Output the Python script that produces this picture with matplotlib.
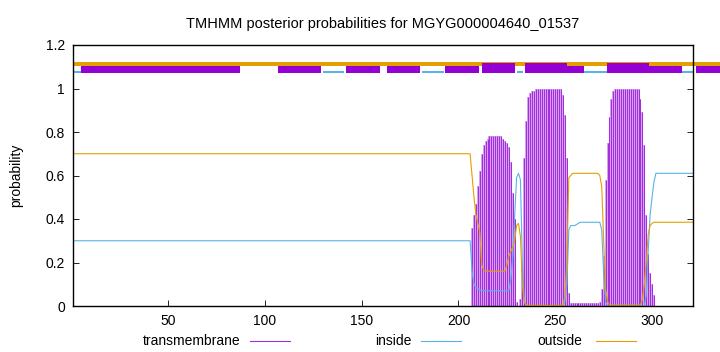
import numpy as np
from matplotlib import pyplot as plt
from matplotlib.lines import Line2D
from matplotlib.patches import Rectangle

plt.rcParams["font.family"] = ["Liberation Sans", "DejaVu Sans"]
plt.rcParams["font.size"] = 10

title = "TMHMM posterior probabilities for MGYG000004640_01537"
seq_len = 321
residues = np.arange(1, seq_len + 1)

# posterior values, residues 1-206 flat, then read residue by residue from 207
tm_head = [0.0] * 206
inside_head = [0.30] * 206
outside_head = [0.70] * 206

tm_tail = [
    0.36, 0.42, 0.47, 0.55, 0.62, 0.70, 0.74, 0.76, 0.77, 0.78,
    0.78, 0.78, 0.78, 0.78, 0.78, 0.78, 0.77, 0.76, 0.75, 0.73,
    0.66, 0.52, 0.40, 0.02, 0.00, 0.03, 0.19, 0.68, 0.85, 0.96,
    0.98, 0.99, 0.99, 1.00, 1.00, 1.00, 1.00, 1.00, 1.00, 1.00,
    1.00, 1.00, 1.00, 1.00, 1.00, 1.00, 1.00, 0.97, 0.88, 0.68,
    0.06, 0.015, 0.015, 0.015, 0.015, 0.015, 0.015, 0.015, 0.015, 0.015,
    0.015, 0.015, 0.015, 0.015, 0.015, 0.015, 0.02, 0.08, 0.23, 0.58,
    0.75, 0.87, 0.95, 0.99, 1.00, 1.00, 1.00, 1.00, 1.00, 1.00,
    1.00, 1.00, 1.00, 1.00, 1.00, 1.00, 1.00, 0.95, 0.89, 0.74,
    0.42, 0.24, 0.15, 0.10, 0.05, 0.0, 0.0, 0.0, 0.0, 0.0,
    0.0, 0.0, 0.0, 0.0, 0.0, 0.0, 0.0, 0.0, 0.0, 0.0,
    0.0, 0.0, 0.0, 0.0, 0.0,
]
inside_tail = [
    0.16, 0.10, 0.085, 0.08, 0.075, 0.07, 0.07, 0.07, 0.07, 0.07,
    0.07, 0.07, 0.07, 0.07, 0.07, 0.07, 0.07, 0.07, 0.07, 0.07,
    0.12, 0.22, 0.40, 0.59, 0.61, 0.58, 0.20, 0.02, 0.0, 0.0,
    0.0, 0.0, 0.0, 0.0, 0.0, 0.0, 0.0, 0.0, 0.0, 0.0,
    0.0, 0.0, 0.0, 0.0, 0.0, 0.0, 0.0, 0.0, 0.02, 0.10,
    0.35, 0.37, 0.37, 0.37, 0.375, 0.38, 0.385, 0.385, 0.385, 0.385,
    0.385, 0.385, 0.385, 0.385, 0.385, 0.385, 0.385, 0.35, 0.15, 0.02,
    0.0, 0.0, 0.0, 0.0, 0.0, 0.0, 0.0, 0.0, 0.0, 0.0,
    0.0, 0.0, 0.0, 0.0, 0.0, 0.0, 0.0, 0.0, 0.0, 0.0,
    0.05, 0.25, 0.42, 0.50, 0.57, 0.61, 0.61, 0.61, 0.61, 0.61,
    0.61, 0.61, 0.61, 0.61, 0.61, 0.61, 0.61, 0.61, 0.61, 0.61,
    0.61, 0.61, 0.61, 0.61, 0.61,
]
outside_tail = [
    0.60, 0.50, 0.42, 0.38, 0.34, 0.19, 0.165, 0.16, 0.16, 0.16,
    0.16, 0.16, 0.16, 0.16, 0.16, 0.16, 0.16, 0.16, 0.19, 0.23,
    0.25, 0.27, 0.30, 0.37, 0.38, 0.32, 0.10, 0.02, 0.005, 0.003,
    0.003, 0.003, 0.003, 0.003, 0.003, 0.003, 0.003, 0.003, 0.003, 0.003,
    0.003, 0.003, 0.003, 0.003, 0.003, 0.003, 0.003, 0.003, 0.05, 0.20,
    0.59, 0.60, 0.61, 0.61, 0.61, 0.61, 0.61, 0.61, 0.61, 0.61,
    0.61, 0.61, 0.61, 0.61, 0.61, 0.61, 0.60, 0.55, 0.30, 0.08,
    0.02, 0.005, 0.005, 0.005, 0.005, 0.005, 0.005, 0.005, 0.005, 0.005,
    0.005, 0.005, 0.005, 0.005, 0.005, 0.005, 0.005, 0.005, 0.03, 0.10,
    0.20, 0.33, 0.37, 0.38, 0.385, 0.385, 0.385, 0.385, 0.385, 0.385,
    0.385, 0.385, 0.385, 0.385, 0.385, 0.385, 0.385, 0.385, 0.385, 0.385,
    0.385, 0.385, 0.385, 0.385, 0.385,
]

tm = np.array(tm_head + tm_tail)
inside = np.array(inside_head + inside_tail)
outside = np.array(outside_head + outside_tail)

# segment track drawn above the curves (start, end)
track_tm = [(4.9, 87.1), (106.9, 129.0), (142.0, 159.2), (163.0, 180.2),
            (193.2, 210.4), (256.1, 265.1), (298.3, 315.6), (322.5, 336.0)]
track_tm_tall = [(212.2, 229.4), (234.2, 256.1), (276.5, 298.3)]
track_inside = [(1.0, 12.6), (40.9, 44.0), (130.2, 141.1), (181.1, 192.3),
                (230.3, 233.4), (263.0, 276.5), (299.2, 321.3)]

c_tm = "#9400d3"
c_in = "#56b4e9"
c_out = "#e69f00"

fig = plt.figure(figsize=(7.2, 3.52), dpi=100)
ax = fig.add_axes([73.3 / 720, 1 - 306 / 352, (692.7 - 73.3) / 720, (306 - 45) / 352])

# impulses: light fill between residues, thin dark strokes on top
ax.bar(residues, tm, width=1.0, color="#d9a6ef", lw=0, zorder=1)
ax.vlines(residues, 0, tm, colors="#a22ee0", lw=0.75, zorder=2)
ax.plot(residues, inside, color=c_in, lw=0.8, zorder=3)
ax.plot(residues, outside, color=c_out, lw=0.8, zorder=3)

ax.add_patch(Rectangle((1, 1.105), 335, 0.018, color=c_out, lw=0, clip_on=False, zorder=4))
for s, e in track_inside:
    ax.add_patch(Rectangle((s, 1.070), e - s, 0.010, color=c_in, lw=0, clip_on=False, zorder=4))
for s, e in track_tm:
    ax.add_patch(Rectangle((s, 1.073), e - s, 0.030, color=c_tm, lw=0, clip_on=False, zorder=5))
for s, e in track_tm_tall:
    ax.add_patch(Rectangle((s, 1.073), e - s, 0.046, color=c_tm, lw=0, clip_on=False, zorder=5))

ax.set_xlim(1, seq_len)
ax.set_ylim(0, 1.2)
ax.set_xticks([50, 100, 150, 200, 250, 300])
ax.set_yticks([0, 0.2, 0.4, 0.6, 0.8, 1.0, 1.2])
ax.set_yticklabels(["0", "0.2", "0.4", "0.6", "0.8", "1", "1.2"])
ax.tick_params(direction="in", length=4, width=0.6, right=True, top=False, pad=6)
for sp in ax.spines.values():
    sp.set_linewidth(1.0)
    sp.set_zorder(6)
ax.set_ylabel("probability", labelpad=16)
ax.set_title(title, fontsize=10.5, pad=12)

# key along the bottom
ky = 1 - 341 / 352
for label, color, tx, x0, x1 in [("transmembrane", "#a22ee0", 240, 250, 290),
                                 ("inside", c_in, 411, 421, 461),
                                 ("outside", c_out, 582, 596, 636)]:
    fig.text(tx / 720, ky, label, ha="right", va="center", fontsize=10)
    fig.add_artist(Line2D([x0 / 720, x1 / 720], [ky, ky], color=color, lw=0.8))

plt.savefig("out.png", dpi=100)
